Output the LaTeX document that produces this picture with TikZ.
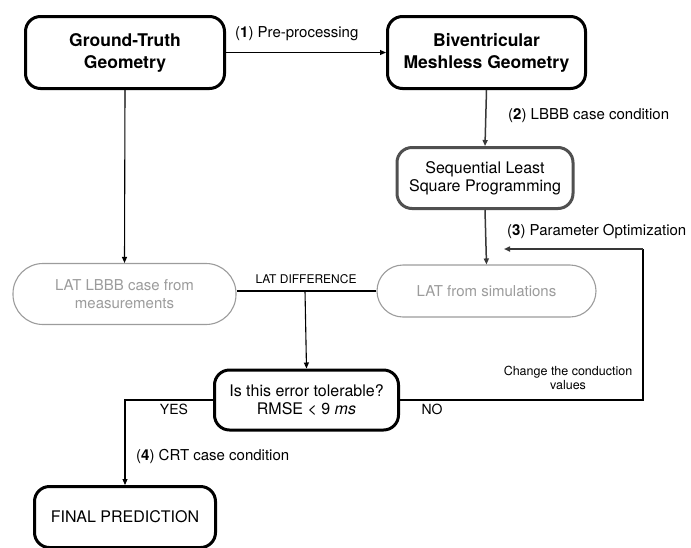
\documentclass[tikz,border=0pt]{standalone}
\usepackage{fontspec}
\setmainfont{TeX Gyre Heros}
\usetikzlibrary{arrows.meta}
\definecolor{lgray}{HTML}{9C9C9C}
\definecolor{dgray}{HTML}{505050}
\begin{document}
\begin{tikzpicture}[x=1pt,y=-1pt,
  every node/.style={inner sep=0pt, align=center},
  bigbox/.style={draw=black, line width=3pt, rounded corners=15pt, fill=white,
    font=\fontsize{17.5}{22}\selectfont\bfseries},
  blackbox/.style={draw=black, line width=3pt, rounded corners=15pt, fill=white,
    font=\fontsize{16}{18}\selectfont},
  graybox/.style={draw=lgray, line width=1.1pt, fill=white, text=lgray,
    font=\fontsize{15}{18}\selectfont},
  conn/.style={line width=1.1pt, -{Triangle[length=6pt,width=5pt]}},
  dconn/.style={line width=1.5pt, draw=dgray!70!black, -{Triangle[length=6pt,width=5pt]}},
  lbl/.style={font=\fontsize{15}{18}\selectfont, anchor=west},
  smalllbl/.style={font=\fontsize{12.5}{14}\selectfont}
]
\useasboundingbox (0,0) rectangle (691,547);
\clip (0,0) rectangle (691,547);

% boxes
\node[bigbox, minimum width=199pt, minimum height=72pt] (gt) at (125,52.5) {Ground-Truth\\Geometry};
\node[bigbox, minimum width=198pt, minimum height=72pt] (biv) at (486.5,52.5) {Biventricular\\Meshless Geometry};
\node[blackbox, draw=dgray, minimum width=176pt, minimum height=61pt] (slsqp) at (485,178) {Sequential Least\\Square Programming};
\node[graybox, rounded corners=30pt, minimum width=223pt, minimum height=61pt] (lbbb) at (124.5,294) {LAT LBBB case from\\measurements};
\node[graybox, rounded corners=26pt, minimum width=219pt, minimum height=52pt] (sim) at (486.5,291) {LAT from simulations};
\node[blackbox, minimum width=184pt, minimum height=60pt] (dec) at (306.5,400) {Is this error tolerable?\\RMSE < 9 \textit{ms}};
\node[blackbox, minimum width=181pt, minimum height=61pt] (fin) at (125,517) {FINAL PREDICTION};

% coordinates
\coordinate (diff) at (305,291);
\coordinate (fbA) at (643,249);
\coordinate (fbB) at (504,249);

% connectors
\draw[conn] (gt.east) -- (biv.west);
\draw[conn] (gt.south) -- (lbbb.north);
\draw[dconn] (biv.south) -- (slsqp.north);
\draw[dconn] (slsqp.south) -- (sim.north);
\draw[line width=1.1pt] (sim.west) -- (sim.west -| lbbb.east);
\draw[conn] (diff) -- (dec.north);
\draw[conn] (dec.west) -| (fin.north);
\draw[line width=1.1pt] (dec.east) -| (fbA);
\draw[dconn] (fbA) -- (fbB);

% labels
\node[lbl] (l1) at (235,34) {(\textbf{1}) Pre-processing};
\node[lbl] (l2) at (508,116) {(\textbf{2}) LBBB case condition};
\node[lbl] (l3) at (507,232) {(\textbf{3}) Parameter Optimization};
\node[lbl] (l4) at (136,456) {(\textbf{4}) CRT case condition};
\node[font=\fontsize{12}{14}\selectfont] (ld) at (306,279) {LAT DIFFERENCE};
\node[smalllbl] (lc) at (568,378) {Change the conduction\\values};
\node[font=\fontsize{14}{16}\selectfont] (yes) at (174,409) {YES};
\node[font=\fontsize{14}{16}\selectfont] (no) at (432,409) {NO};
\end{tikzpicture}
\end{document}
